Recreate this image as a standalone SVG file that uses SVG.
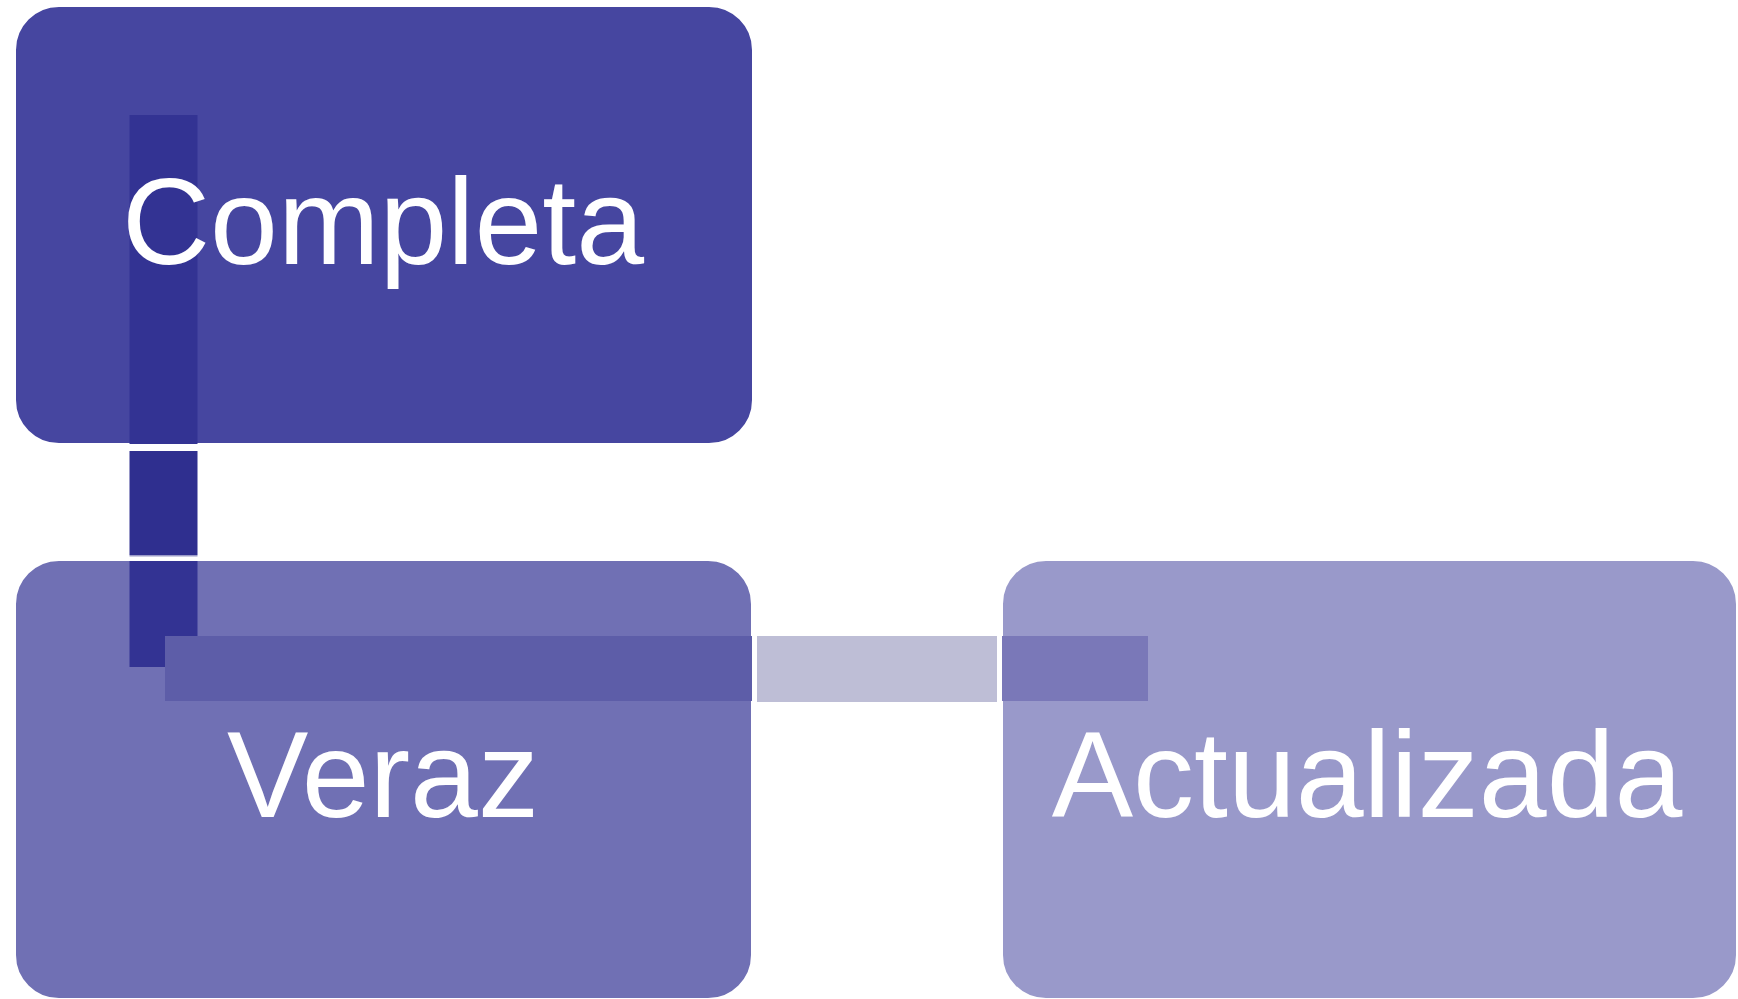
<svg xmlns="http://www.w3.org/2000/svg" width="1738" height="999" viewBox="0 0 1738 999">
<style>
.lbl{font-family:"Liberation Sans",Arial,sans-serif;font-size:122px;fill:#ffffff;text-anchor:middle}
.box{stroke:#ffffff;stroke-width:2}
</style>
<rect width="1738" height="999" fill="#ffffff"/>
<g id="node-completa">
<rect class="box" x="15" y="6" width="738" height="438" rx="44" fill="#4646A0"/>
</g>
<g id="node-veraz">
<rect class="box" x="15" y="560" width="737" height="439" rx="44" fill="#7070B4"/>
</g>
<g id="node-actualizada">
<rect class="box" x="1002" y="560" width="735" height="439" rx="44" fill="#9999CA"/>
</g>
<g id="connectors">
<rect x="129.5" y="115" width="68" height="329" fill="#333393"/>
<rect x="129.5" y="451" width="68" height="104" fill="#2F2F8F"/>
<rect x="129.5" y="555" width="68" height="1.5" fill="#9A9AC8"/>
<rect x="129.5" y="561" width="68" height="106" fill="#333393"/>
<rect x="165" y="636" width="587" height="65" fill="#5D5DA8"/>
<rect x="757" y="636" width="240" height="66" fill="#BEBED6"/>
<rect x="1002" y="636" width="146" height="65" fill="#7A78B8"/>
</g>
<g id="labels">
<text class="lbl" x="383" y="264">Completa</text>
<text class="lbl" x="383" y="817">Veraz</text>
<text class="lbl" x="1367" y="817">Actualizada</text>
</g>
</svg>
